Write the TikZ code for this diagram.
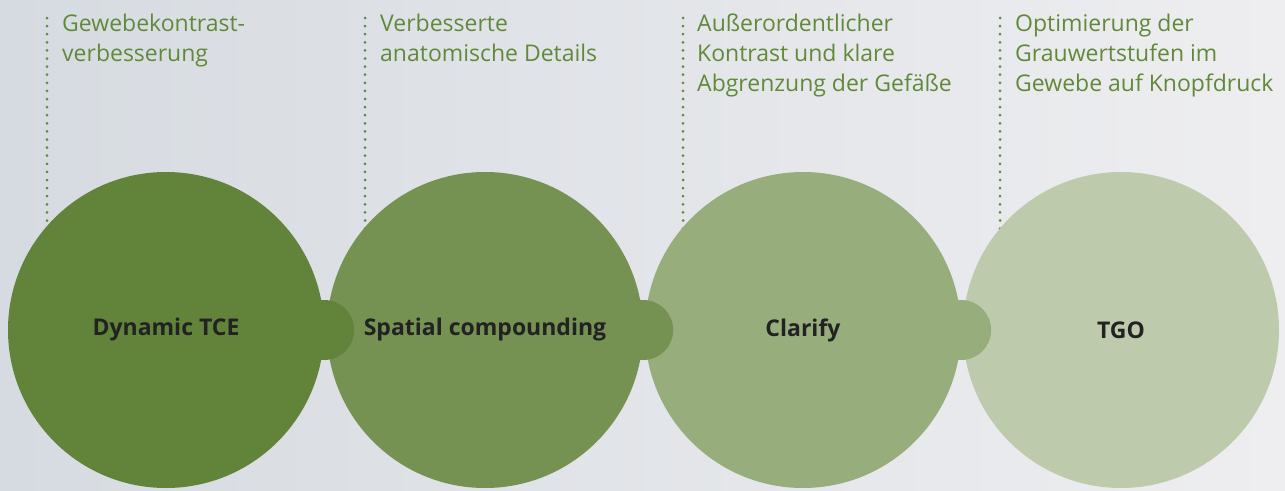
\documentclass[tikz,border=0pt]{standalone}
\usepackage{fontspec}
\setmainfont{Open Sans}
\usepackage{xcolor}
\usepackage{tikz}
\definecolor{tone1}{RGB}{98, 131, 58}
\definecolor{tone2}{RGB}{117, 146, 82}
\definecolor{tone3}{RGB}{151, 173, 124}
\definecolor{tone4}{RGB}{189, 203, 172}
\definecolor{notegreen}{RGB}{96, 138, 58}
\definecolor{labelgray}{RGB}{34, 34, 34}
\definecolor{bgleft}{RGB}{214, 219, 225}
\definecolor{bgright}{RGB}{238, 238, 240}

\begin{document}
\begin{tikzpicture}[x=1pt,y=-1pt,
  stage/.style={circle,minimum size=316pt,inner sep=0pt,text=labelgray,
    font=\fontsize{23}{27}\selectfont\bfseries},
  joint/.style={circle,minimum size=60pt,inner sep=0pt},
  note/.style={anchor=north west,inner sep=0pt,align=left,text=notegreen,
    font=\fontsize{23}{30}\selectfont},
  guide/.style={draw=notegreen,line width=3pt,line cap=round,dash pattern=on 0pt off 8.1pt}]
  \useasboundingbox[left color=bgleft,right color=bgright] (0,0) rectangle (1285,490);

  % guide lines above the stages
  \coordinate (g1a) at (47,18);   \coordinate (g1b) at (47,224);
  \coordinate (g2a) at (365,18);  \coordinate (g2b) at (365,247);
  \coordinate (g3a) at (683,18);  \coordinate (g3b) at (683,247);
  \coordinate (g4a) at (1000,18); \coordinate (g4b) at (1000,247);
  \draw[guide] (g1a) -- (g1b);
  \draw[guide] (g2a) -- (g2b);
  \draw[guide] (g3a) -- (g3b);
  \draw[guide] (g4a) -- (g4b);

  \node[note] (n1) at (62,14) {Gewebekontrast-\\verbesserung};
  \node[note] (n2) at (380,14) {Verbesserte\\anatomische Details};
  \node[note] (n3) at (697,14) {Außerordentlicher\\Kontrast und klare\\Abgrenzung der Gefäße};
  \node[note] (n4) at (1015,14) {Optimierung der\\Grauwertstufen im\\Gewebe auf Knopfdruck};

  % stages
  \node[stage,fill=tone4] (tgo) at (1121,330) {TGO};
  \node[stage,fill=tone3] (clar) at (803,330) {Clarify};
  \node[stage,fill=tone2] (spat) at (485,330) {Spatial compounding};
  \node[stage,fill=tone1] (dyn) at (166,330) {Dynamic TCE};

  \node[joint,fill=tone1] (j1) at (dyn.east) {};
  \node[joint,fill=tone2] (j2) at (spat.east) {};
  \node[joint,fill=tone3] (j3) at (clar.east) {};
\end{tikzpicture}
\end{document}
